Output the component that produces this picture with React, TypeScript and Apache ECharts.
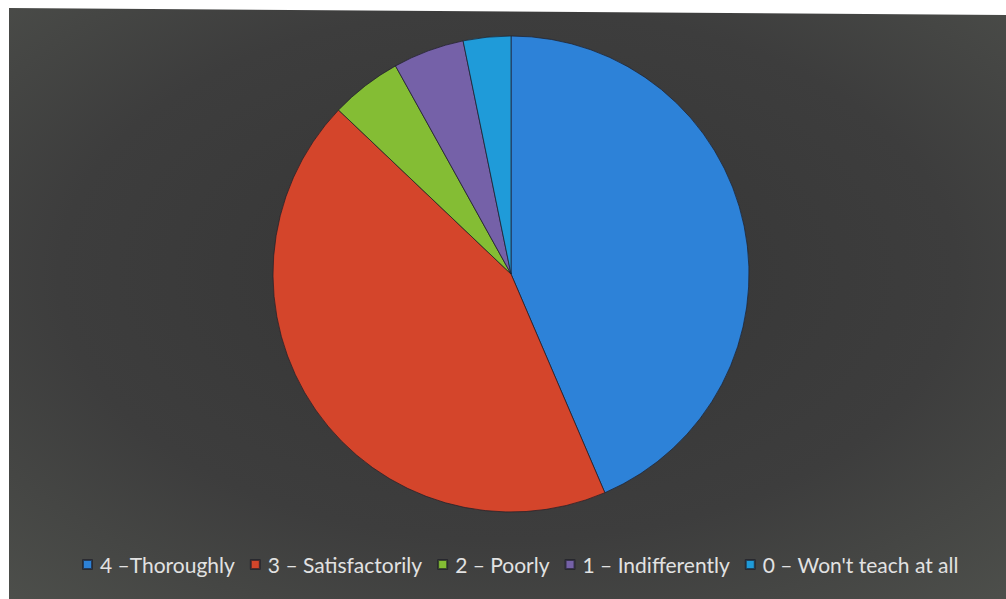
import React, { useEffect, useRef } from "react";
import * as echarts from "echarts";

const categories = [
  "4 –Thoroughly",
  "3 – Satisfactorily",
  "2 – Poorly",
  "1 – Indifferently",
  "0 – Won't teach at all",
];
const values = [27, 27, 3, 3, 2];
const colors = ["#2d82d8", "#d4452b", "#84bd34", "#7561a8", "#1f9bd9"];

export default function App() {
  const ref = useRef<HTMLDivElement>(null);
  useEffect(() => {
    if (!ref.current) return;
    const chart = echarts.init(ref.current, null, { renderer: "svg" });
    chart.setOption({
      animation: false,
      backgroundColor: "#ffffff",
      graphic: [
        {
          type: "polygon",
          silent: true,
          z: -10,
          shape: { points: [[9, 8], [1006, 15], [1006, 599], [9, 599]] },
          style: {
            fill: new echarts.graphic.RadialGradient(0.5, 0.45, 0.75, [
              { offset: 0, color: "#353535" },
              { offset: 0.6, color: "#3d3d3d" },
              { offset: 1, color: "#4d4f4b" },
            ]),
          },
        },
      ],
      legend: {
        left: 77,
        top: 549,
        icon: "rect",
        itemWidth: 9,
        itemHeight: 9,
        itemGap: 15,
        textStyle: {
          color: "#e2e2e2",
          fontSize: 21,
          fontFamily: "Lato",
          padding: [0, 0, 0, 3],
        },
        data: categories,
      },
      series: [
        {
          type: "pie",
          center: [511, 274],
          radius: 238,
          startAngle: 90,
          clockwise: true,
          label: { show: false },
          labelLine: { show: false },
          itemStyle: { borderColor: "rgba(30,30,40,0.7)", borderWidth: 1 },
          data: categories.map((c, i) => ({
            name: c,
            value: values[i],
            itemStyle: { color: colors[i] },
          })),
        },
      ],
    });
    return () => chart.dispose();
  }, []);
  return (
    <div
      ref={ref}
      style={{ position: "fixed", left: 0, top: 0, width: 1006, height: 599 }}
    />
  );
}
